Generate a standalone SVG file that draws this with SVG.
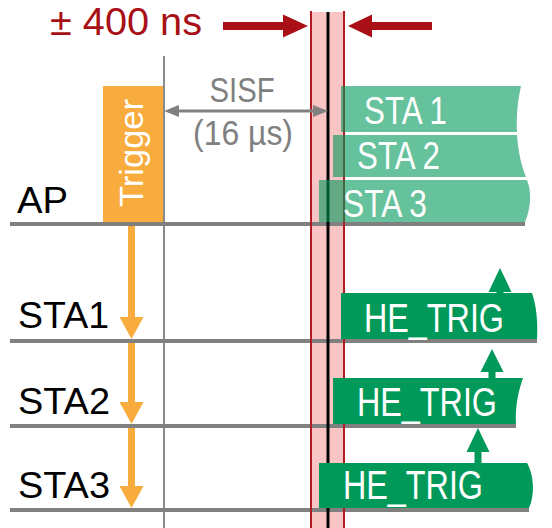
<svg xmlns="http://www.w3.org/2000/svg" width="552" height="528" viewBox="0 0 552 528">
  <style>
    text { font-family: "Liberation Sans", Arial, sans-serif; }
    .lbl { font-size: 36px; fill: #000000; }
    .wht { fill: #ffffff; }
    .gry { fill: #808080; font-size: 35px; }
    .tl { stroke: #808080; stroke-width: 4; fill: none; }
    .sta { fill: #00995A; fill-opacity: 0.6; }
    .he { fill: #00995A; }
    .org { fill: #F8AC3E; }
    .red { fill: #A81016; }
  </style>

  <!-- timing tolerance band -->
  <g id="band">
    <rect x="311" y="12" width="33" height="516" fill="#F8C4C4"/>
  </g>

  <!-- time lines -->
  <g id="timelines">
    <line x1="164" y1="56" x2="164" y2="528" stroke="#8A8A8A" stroke-width="2"/>
    <line class="tl" x1="10" y1="224" x2="525" y2="224"/>
    <line class="tl" x1="10" y1="341" x2="537" y2="341"/>
    <line class="tl" x1="10" y1="426" x2="516" y2="426"/>
    <line class="tl" x1="10" y1="510" x2="529" y2="510"/>
  </g>

  <g id="band-edges">
    <line x1="311" y1="11" x2="311" y2="528" stroke="#B01C22" stroke-width="2"/>
    <line x1="344" y1="11" x2="344" y2="528" stroke="#B01C22" stroke-width="2"/>
    <line x1="328" y1="12" x2="328" y2="528" stroke="#000000" stroke-width="3"/>
  </g>

  <g id="label-400ns">
    <text class="red" x="50" y="35" font-size="39" textLength="152" lengthAdjust="spacingAndGlyphs">± 400 ns</text>
  </g>

  <g id="label-sisf">
    <text class="gry" x="242" y="102" text-anchor="middle" textLength="65" lengthAdjust="spacingAndGlyphs">SISF</text>
    <text class="gry" x="243" y="145" text-anchor="middle" textLength="100" lengthAdjust="spacingAndGlyphs">(16 µs)</text>
  </g>

  <g id="trigger">
    <rect class="org" x="103" y="86" width="60" height="136"/>
    <text class="wht" transform="translate(143,153) rotate(-90)" x="0" y="0" font-size="34" text-anchor="middle" textLength="108" lengthAdjust="spacingAndGlyphs">Trigger</text>
  </g>

  <g id="label-ap"><text class="lbl" x="17" y="213" textLength="51" lengthAdjust="spacingAndGlyphs">AP</text></g>
  <g id="label-sta1"><text class="lbl" x="18" y="328" textLength="91" lengthAdjust="spacingAndGlyphs">STA1</text></g>
  <g id="label-sta2"><text class="lbl" x="18" y="414" textLength="92" lengthAdjust="spacingAndGlyphs">STA2</text></g>
  <g id="label-sta3"><text class="lbl" x="18" y="498" textLength="92" lengthAdjust="spacingAndGlyphs">STA3</text></g>

  <g id="ap-sta1">
    <path class="sta" d="M341,86 H521 C518,100 516,115 517,132 H341 Z"/>
    <text class="wht" x="364" y="124" font-size="38" textLength="83" lengthAdjust="spacingAndGlyphs">STA 1</text>
  </g>
  <g id="ap-sta2">
    <path class="sta" d="M333,135 H517 C518,150 521,165 526,177 H333 Z"/>
    <text class="wht" x="357" y="169" font-size="38" textLength="83" lengthAdjust="spacingAndGlyphs">STA 2</text>
  </g>
  <g id="ap-sta3">
    <path class="sta" d="M319,180 H527 C531,190 532,205 525,222 H319 Z"/>
    <text class="wht" x="343" y="217" font-size="38" textLength="84" lengthAdjust="spacingAndGlyphs">STA 3</text>
  </g>

  <g id="he-trig-1">
    <path class="he" d="M341,293 H532 C536,305 538,320 537,339 H341 Z"/>
    <text class="wht" x="364" y="332" font-size="40" textLength="140" lengthAdjust="spacingAndGlyphs">HE_TRIG</text>
  </g>
  <g id="he-trig-2">
    <path class="he" d="M333,378 H523 C518,392 515,408 516,424 H333 Z"/>
    <text class="wht" x="357" y="416" font-size="40" textLength="140" lengthAdjust="spacingAndGlyphs">HE_TRIG</text>
  </g>
  <g id="he-trig-3">
    <path class="he" d="M319,463 H527 C534,475 535,495 529,508 H319 Z"/>
    <text class="wht" x="343" y="499" font-size="40" textLength="140" lengthAdjust="spacingAndGlyphs">HE_TRIG</text>
  </g>

  <g id="connectors">
    <!-- red tolerance arrows -->
    <rect class="red" x="223" y="22" width="62" height="8"/>
    <polygon class="red" points="283,14.5 308,26 283,37.5"/>
    <rect class="red" x="370" y="22" width="62" height="8"/>
    <polygon class="red" points="372,14.5 348,26 372,37.5"/>
    <!-- SISF double arrow -->
    <line x1="176" y1="111" x2="316" y2="111" stroke="#808080" stroke-width="3"/>
    <polygon fill="#808080" points="164,111 179,105 179,117"/>
    <polygon fill="#808080" points="328,111 313,105 313,117"/>
    <!-- orange trigger arrows -->
    <rect class="org" x="128" y="226" width="7" height="92"/>
    <polygon class="org" points="119.5,317 143.5,317 131.5,339"/>
    <rect class="org" x="128" y="343" width="7" height="60"/>
    <polygon class="org" points="119.5,402 143.5,402 131.5,424"/>
    <rect class="org" x="128" y="428" width="7" height="59"/>
    <polygon class="org" points="119.5,486 143.5,486 131.5,508"/>
    <!-- green HE_TRIG up arrows -->
    <rect class="he" x="496.5" y="290" width="7" height="4"/>
    <polygon class="he" points="488.5,292 511.5,292 500,268"/>
    <rect class="he" x="488.5" y="370" width="7" height="9"/>
    <polygon class="he" points="480.5,372 503.5,372 492,349"/>
    <rect class="he" x="474.5" y="450" width="7" height="14"/>
    <polygon class="he" points="466.5,452 489.5,452 478,428"/>
  </g>
</svg>
